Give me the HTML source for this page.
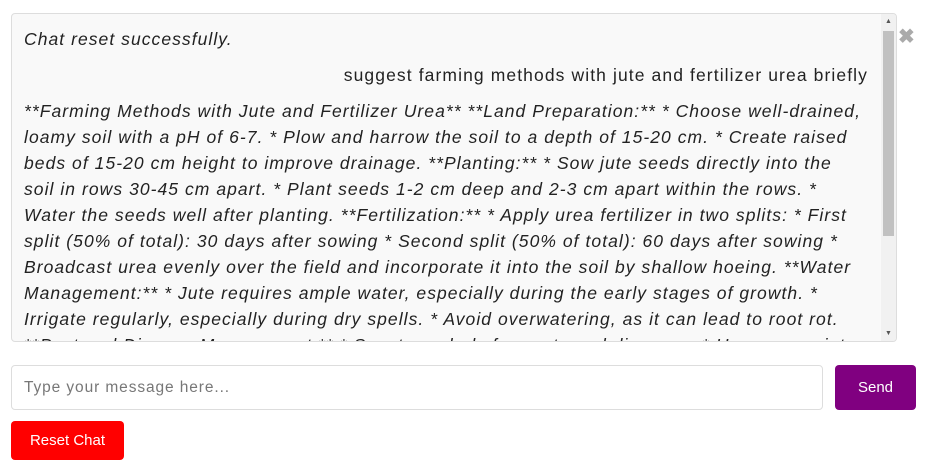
<!DOCTYPE html>
<html><head><meta charset="utf-8"><style>
body{margin:0;width:928px;height:468px;background:#fff;font-family:"Liberation Sans",sans-serif;position:relative;overflow:hidden}
#chat{position:absolute;left:11px;top:13px;width:884px;height:327px;background:#f9f9f9;border:1px solid #ddd;border-radius:4px;overflow:hidden}
.l{position:absolute;left:12px;font-style:italic;font-size:17.5px;letter-spacing:1.05px;color:#222;white-space:nowrap;line-height:26px}
.u{position:absolute;right:28px;font-size:17.5px;letter-spacing:1.1px;color:#222;white-space:nowrap;line-height:26px}
#sb{position:absolute;right:0;top:0;width:15px;height:100%;background:#f1f1f1}
#thumb{position:absolute;left:2px;top:17px;width:11px;height:205px;background:#c1c1c1}
.ar{position:absolute;left:4px;font-size:7px;color:#555}
#close{position:absolute;left:898px;top:24px;font-size:20px;color:#aaa;font-weight:bold}
#inp{position:absolute;left:11px;top:365px;width:812px;height:45px;border:1px solid #ddd;border-radius:4px;box-sizing:border-box;font-size:15.5px;letter-spacing:0.9px;color:#777;padding:0 12px;line-height:43px}
#send{position:absolute;left:835px;top:365px;width:81px;height:45px;background:#800080;color:#fff;border-radius:4px;font-size:15px;text-align:center;line-height:45px}
#reset{position:absolute;left:11px;top:421px;width:113px;height:39px;background:#f00;color:#fff;border-radius:4px;font-size:15px;text-align:center;line-height:39px}
</style></head><body>
<div id="chat">
<div class="l" style="top:12px">Chat reset successfully.</div>
<div class="u" style="top:48px">suggest farming methods with jute and fertilizer urea briefly</div>
<div>
<div class="l" style="top:84px">**Farming Methods with Jute and Fertilizer Urea** **Land Preparation:** * Choose well-drained,</div>
<div class="l" style="top:110px">loamy soil with a pH of 6-7. * Plow and harrow the soil to a depth of 15-20 cm. * Create raised</div>
<div class="l" style="top:136px">beds of 15-20 cm height to improve drainage. **Planting:** * Sow jute seeds directly into the</div>
<div class="l" style="top:162px">soil in rows 30-45 cm apart. * Plant seeds 1-2 cm deep and 2-3 cm apart within the rows. *</div>
<div class="l" style="top:188px">Water the seeds well after planting. **Fertilization:** * Apply urea fertilizer in two splits: * First</div>
<div class="l" style="top:214px">split (50% of total): 30 days after sowing * Second split (50% of total): 60 days after sowing *</div>
<div class="l" style="top:240px">Broadcast urea evenly over the field and incorporate it into the soil by shallow hoeing. **Water</div>
<div class="l" style="top:266px">Management:** * Jute requires ample water, especially during the early stages of growth. *</div>
<div class="l" style="top:292px">Irrigate regularly, especially during dry spells. * Avoid overwatering, as it can lead to root rot.</div>
<div class="l" style="top:318px">**Pest and Disease Management:** * Scout regularly for pests and diseases. * Use appropriate</div>
</div>
<div id="sb"><div class="ar" style="top:4px">▲</div><div id="thumb"></div><div class="ar" style="bottom:4px">▼</div></div>
</div>
<div id="close">✖</div>
<div id="inp">Type your message here...</div>
<div id="send">Send</div>
<div id="reset">Reset Chat</div>
</body></html>
